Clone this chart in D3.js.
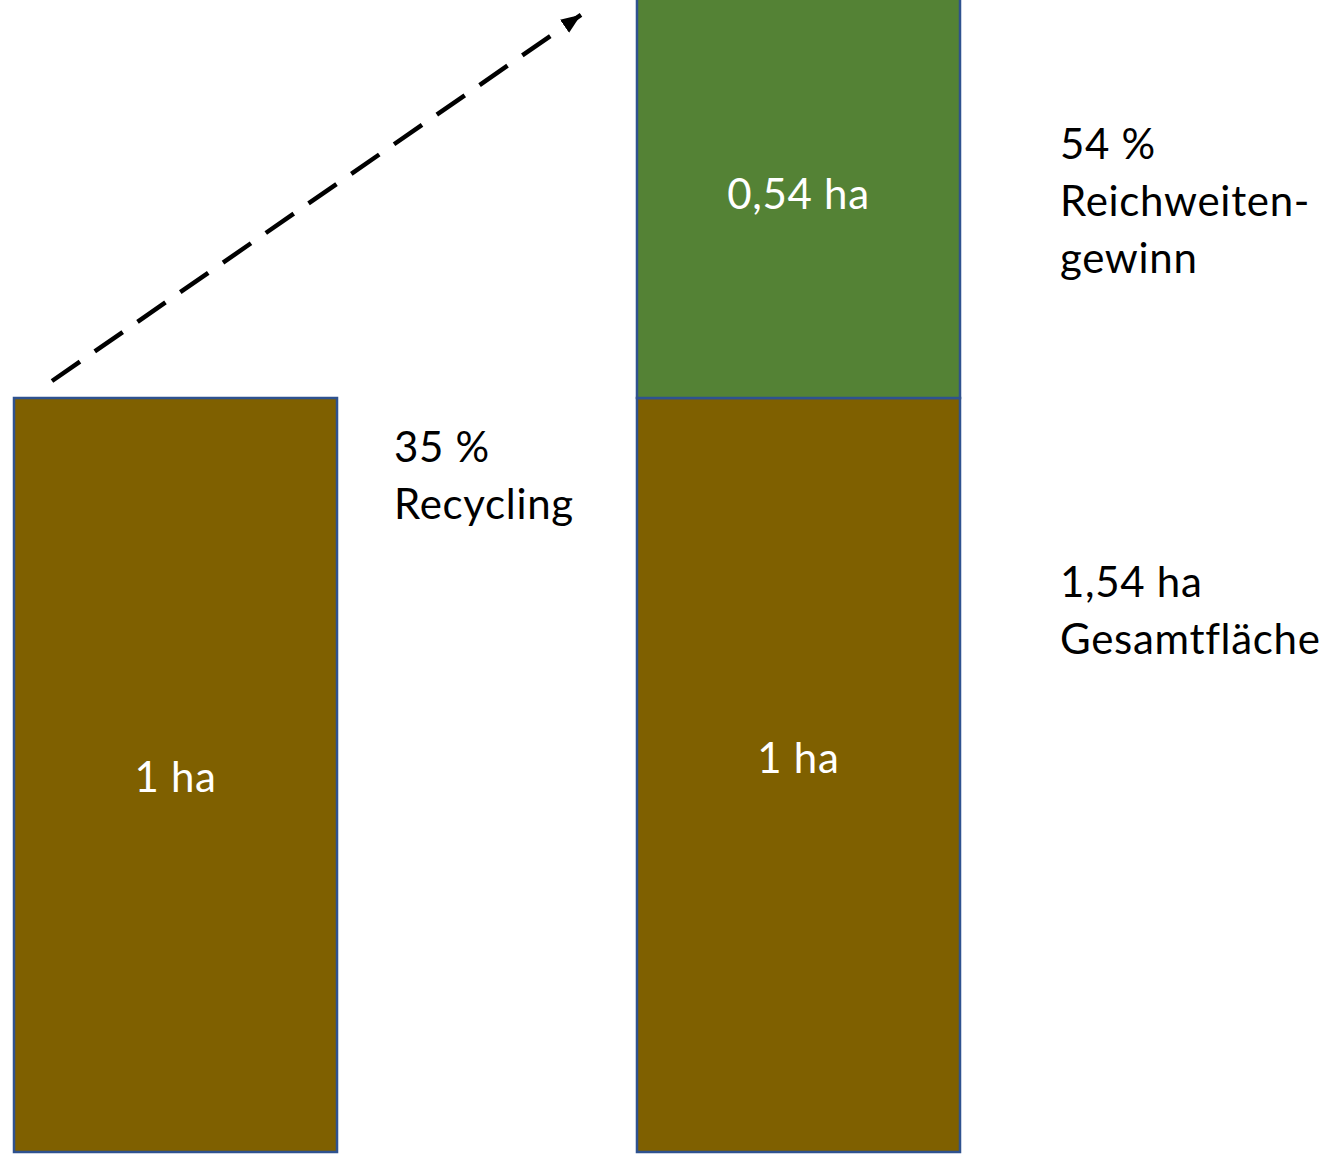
<!DOCTYPE html>
<html>
<head>
<meta charset="utf-8">
<script src="https://cdn.jsdelivr.net/npm/d3@7"></script>
<style>
  body { margin: 0; background: #fff; }
  text { font-family: Lato, "Open Sans", sans-serif; letter-spacing: 0.7px; }
</style>
</head>
<body>
<div id="chart"></div>
<script>
/* data */
var categories = ["vorher", "nachher"];
var baseValues = [1, 1];          // ha, brown part
var gainValues = [0, 0.54];       // ha, green part
var baseLabels = ["1 ha", "1 ha"];
var gainLabels = ["", "0,54 ha"];
var noteRecycling = ["35 %", "Recycling"];
var noteGain = ["54 %", "Reichweiten-", "gewinn"];
var noteTotal = ["1,54 ha", "Gesamtfläche"];

/* setup */
var iWidth = 1332,
    iHeight = 1154,
    lineH = 57,
    fontSize = 42;

var svg = d3.select('#chart').append('svg')
    .attr('width', iWidth)
    .attr('height', iHeight);

var x = d3.scaleBand()
    .domain(categories)
    .range([14, 960])
    .paddingInner(0.4815)
    .paddingOuter(0);

var y = d3.scaleLinear()
    .domain([0, 1])
    .range([1152, 398]);

var rows = categories.map(function (c, i) {
    return { cat: c, base: baseValues[i], gain: gainValues[i], bl: baseLabels[i], gl: gainLabels[i] };
});

// brown base bars
svg.selectAll('.base')
    .data(rows)
  .enter().append('rect')
    .attr('class', 'base')
    .attr('x', function (d) { return x(d.cat); })
    .attr('y', function (d) { return y(d.base); })
    .attr('width', x.bandwidth())
    .attr('height', function (d) { return y(0) - y(d.base); })
    .attr('fill', '#7f6000')
    .attr('stroke', '#2f528f')
    .attr('stroke-width', 2.5);

// green gain on top
svg.selectAll('.gain')
    .data(rows.filter(function (d) { return d.gain > 0; }))
  .enter().append('rect')
    .attr('class', 'gain')
    .attr('x', function (d) { return x(d.cat); })
    .attr('y', function (d) { return y(d.base + d.gain); })
    .attr('width', x.bandwidth())
    .attr('height', function (d) { return y(d.base) - y(d.base + d.gain); })
    .attr('fill', '#548235')
    .attr('stroke', '#2f528f')
    .attr('stroke-width', 2.5);

// labels inside bars (left one sits a bit lower in the original)
svg.selectAll('.blabel')
    .data(rows)
  .enter().append('text')
    .attr('class', 'blabel')
    .attr('x', function (d) { return x(d.cat) + x.bandwidth() / 2; })
    .attr('y', function (d, i) { return y(d.base / 2) + (i === 0 ? 17 : -2); })
    .attr('text-anchor', 'middle')
    .attr('fill', '#fff')
    .attr('font-size', fontSize)
    .text(function (d) { return d.bl; });

svg.selectAll('.glabel')
    .data(rows.filter(function (d) { return d.gain > 0; }))
  .enter().append('text')
    .attr('class', 'glabel')
    .attr('x', function (d) { return x(d.cat) + x.bandwidth() / 2; })
    .attr('y', function (d) { return y(d.base) / 2 + 10; })
    .attr('text-anchor', 'middle')
    .attr('fill', '#fff')
    .attr('font-size', fontSize)
    .text(function (d) { return d.gl; });

// dashed arrow from the left bar up to the top of the right one
svg.append('defs').append('marker')
    .attr('id', 'head')
    .attr('markerUnits', 'userSpaceOnUse')
    .attr('viewBox', '0 0 20 20')
    .attr('refX', 20).attr('refY', 10)
    .attr('markerWidth', 20).attr('markerHeight', 20)
    .attr('orient', 'auto')
  .append('path')
    .attr('d', 'M0,2 L20,10 L0,18 Z')
    .attr('fill', '#000');

var x0 = x(categories[0]) + 38,
    y0 = y(baseValues[0]) - 17,
    x1 = x(categories[1]) - 56,
    y1 = y(baseValues[1] + gainValues[1]) + 24;

svg.append('line')
    .attr('x1', x0).attr('y1', y0)
    .attr('x2', x1).attr('y2', y1)
    .attr('stroke', '#000')
    .attr('stroke-width', 4.5)
    .attr('stroke-dasharray', '34,18')
    .attr('marker-end', 'url(#head)');

// side notes
function note(lines, nx, ny) {
    var t = svg.append('text')
        .attr('x', nx).attr('y', ny)
        .attr('font-size', fontSize)
        .attr('fill', '#000');
    t.selectAll('tspan')
        .data(lines)
      .enter().append('tspan')
        .attr('x', nx)
        .attr('dy', function (d, i) { return i ? lineH : 0; })
        .text(function (d) { return d; });
}

note(noteRecycling, x(categories[0]) + x.bandwidth() + 57, 462);
note(noteGain, x(categories[1]) + x.bandwidth() + 100, 159);
note(noteTotal, x(categories[1]) + x.bandwidth() + 100, 597);
</script>
</body>
</html>
